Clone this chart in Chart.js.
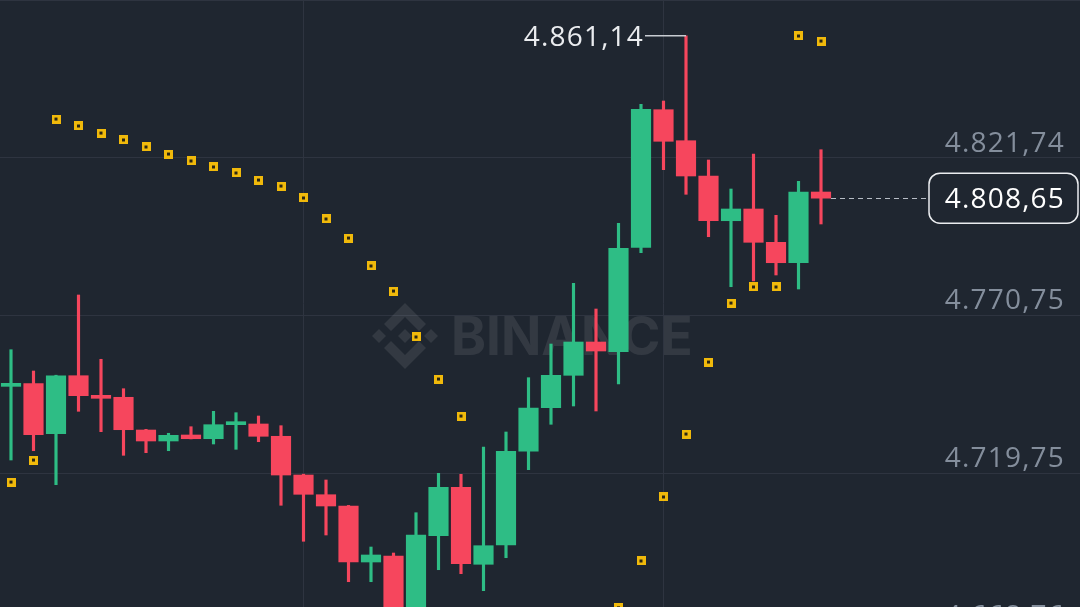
<!DOCTYPE html>
<html>
<head>
<meta charset="utf-8">
<script src="https://cdn.jsdelivr.net/npm/chart.js@4.4.0/dist/chart.umd.min.js"></script>
<style>
  html, body { margin: 0; padding: 0; background: #1f2630; }
  #wrap { width: 1080px; height: 607px; position: relative; }
</style>
</head>
<body>
<div id="wrap"><canvas id="grafico"></canvas></div>
<script>
// candles (open / high / low / close)
const opens  = [4747.8, 4748.66, 4732.49, 4751.24, 4744.9, 4744.26, 4733.68, 4730.13, 4732.07, 4730.87, 4735.4, 4735.63, 4731.65, 4719.13, 4712.76, 4709.11, 4691.0, 4692.94, 4671.0, 4699.51, 4715.16, 4690.26, 4696.5, 4726.8, 4740.9, 4751.37, 4762.14, 4759.0, 4792.76, 4837.26, 4827.23, 4815.82, 4801.36, 4805.15, 4794.38, 4787.78, 4810.64];
const highs  = [4759.65, 4752.76, 4751.4, 4777.34, 4756.55, 4747.04, 4733.9, 4732.62, 4734.75, 4739.73, 4739.28, 4738.21, 4735.08, 4719.4, 4717.52, 4709.3, 4695.85, 4693.91, 4706.94, 4719.68, 4719.36, 4728.19, 4733.04, 4750.6, 4761.49, 4781.12, 4772.81, 4800.52, 4839.0, 4840.07, 4861.14, 4820.99, 4811.61, 4822.93, 4803.11, 4814.1, 4824.32];
const lows   = [4723.98, 4726.99, 4716.0, 4739.73, 4733.14, 4725.5, 4726.35, 4726.99, 4730.8, 4729.16, 4727.44, 4729.9, 4709.34, 4697.7, 4699.73, 4684.63, 4684.63, 4664.0, 4666.5, 4688.51, 4687.22, 4681.72, 4692.39, 4720.85, 4735.53, 4741.45, 4739.83, 4748.56, 4791.02, 4817.86, 4809.9, 4796.19, 4780.02, 4781.87, 4783.81, 4779.28, 4800.3];
const closes = [4748.7, 4732.17, 4751.24, 4744.78, 4743.93, 4733.78, 4730.13, 4731.97, 4730.87, 4735.4, 4736.27, 4731.65, 4719.13, 4712.89, 4709.11, 4691.0, 4693.27, 4670.0, 4699.73, 4715.16, 4690.45, 4696.27, 4726.8, 4740.8, 4751.37, 4762.14, 4759.23, 4792.44, 4837.39, 4827.04, 4815.82, 4801.36, 4805.15, 4794.38, 4787.78, 4810.64, 4808.65];

// parabolic SAR dots (null = below the visible area)
const sar = [4716.87, 4723.98, 4834.25, 4831.99, 4829.72, 4827.46, 4825.2, 4822.93, 4820.67, 4818.73, 4816.79, 4814.52, 4812.58, 4808.71, 4801.92, 4795.77, 4786.72, 4778.63, 4763.76, 4750.17, 4738.21, null, null, null, null, null, null, 4676.2, 4691.33, 4712.02, 4732.39, 4755.67, 4774.75, 4779.93, 4779.93, 4861.09, 4859.47];

const priceTicks = [4668.76, 4719.75, 4770.75, 4821.74, 4872.73];
const timeGrid = [13, 29];
const maxHigh = 4861.14;
const maxHighIdx = 30;
const lastPrice = 4808.65;

const VERDE = '#2ebd85';
const VERMELHO = '#f6465d';
const FUNDO = '#1f2630';

// 4.821,74 style
function fmt(v) {
  const p = v.toFixed(2).split('.');
  return p[0].replace(/\B(?=(\d{3})+(?!\d))/g, '.') + ',' + p[1];
}

const cores = opens.map((o, i) => closes[i] >= o ? VERDE : VERMELHO);

// SAR marker: yellow square with a dark centre
const marca = document.createElement('canvas');
marca.width = 9; marca.height = 9;
const mc = marca.getContext('2d');
mc.fillStyle = '#f0b90b'; mc.fillRect(0, 0, 9, 9);
mc.fillStyle = '#2b2512'; mc.fillRect(3, 3, 3, 3);

const fundo = {
  id: 'fundo',
  beforeDraw(chart) {
    const c = chart.ctx;
    c.save();
    c.fillStyle = FUNDO;
    c.fillRect(0, 0, chart.width, chart.height);
    c.restore();
  }
};

const marcaDagua = {
  id: 'marcaDagua',
  beforeDatasetsDraw(chart) {
    const c = chart.ctx;
    c.save();
    c.fillStyle = 'rgba(255,255,255,0.09)';
    const cx = 405, cy = 336;
    const losango = (x, y, r) => {
      c.beginPath();
      c.moveTo(x, y - r); c.lineTo(x + r, y); c.lineTo(x, y + r); c.lineTo(x - r, y);
      c.closePath(); c.fill();
    };
    losango(cx, cy, 7);
    losango(cx - 26, cy, 7);
    losango(cx + 26, cy, 7);
    [-1, 1].forEach(s => {
      c.beginPath();
      c.moveTo(cx, cy + s * -33);
      c.lineTo(cx + 21, cy + s * -12);
      c.lineTo(cx + 14, cy + s * -5);
      c.lineTo(cx, cy + s * -19);
      c.lineTo(cx - 14, cy + s * -5);
      c.lineTo(cx - 21, cy + s * -12);
      c.closePath(); c.fill();
    });
    c.font = 'bold 53px Inter';
    c.textBaseline = 'alphabetic';
    c.textAlign = 'left';
    c.fillText('BINANCE', 451, 355);
    c.restore();
  }
};

const rotulos = {
  id: 'rotulos',
  afterDatasetsDraw(chart) {
    const c = chart.ctx;
    const y = chart.scales.y, x = chart.scales.x;
    const dir = chart.chartArea.right - 15;
    c.save();
    c.font = '28px "Open Sans"';
    c.letterSpacing = '1.2px';
    c.textAlign = 'right';
    c.textBaseline = 'alphabetic';
    c.fillStyle = '#848e9c';
    priceTicks.forEach(t => {
      c.fillText(fmt(t), dir, y.getPixelForValue(t) - 6);
    });

    // highest price marker
    const hx = x.getPixelForValue(maxHighIdx);
    const hy = y.getPixelForValue(maxHigh);
    c.strokeStyle = '#c8ccd2';
    c.lineWidth = 1.5;
    c.beginPath();
    c.moveTo(hx - 41, hy); c.lineTo(hx, hy);
    c.stroke();
    c.fillStyle = '#eaecef';
    c.fillText(fmt(maxHigh), hx - 42, hy + 10);

    // last price line and box
    const lx = x.getPixelForValue(opens.length - 1) + 10;
    const ly = y.getPixelForValue(lastPrice);
    const bx = 929, bw = chart.chartArea.right - 2 - bx, bh = 50;
    c.strokeStyle = '#b7bdc6';
    c.lineWidth = 1;
    c.setLineDash([5, 4]);
    c.beginPath();
    c.moveTo(lx, Math.round(ly) + 0.5); c.lineTo(bx, Math.round(ly) + 0.5);
    c.stroke();
    c.setLineDash([]);
    c.fillStyle = FUNDO;
    c.strokeStyle = '#eaecef';
    c.lineWidth = 1.5;
    c.beginPath();
    c.roundRect(bx, ly - bh / 2, bw, bh, 11);
    c.fill(); c.stroke();
    c.fillStyle = '#ffffff';
    c.fillText(fmt(lastPrice), dir, ly + 10);
    c.restore();
  }
};

const ctx = document.getElementById('grafico').getContext('2d');
const grafico = new Chart(ctx, {
  type: 'bar',
  data: {
    datasets: [
      {
        type: 'line',
        label: 'SAR',
        data: sar.map((v, i) => ({ x: i, y: v })),
        showLine: false,
        pointStyle: marca,
        pointRadius: 5,
        order: 0
      },
      {
        label: 'corpo',
        data: opens.map((o, i) => ({ x: i, y: [o, closes[i]] })),
        backgroundColor: cores,
        borderWidth: 0,
        barThickness: 19.5,
        minBarLength: 3,
        grouped: false,
        order: 1
      },
      {
        label: 'pavio',
        data: lows.map((l, i) => ({ x: i, y: [l, highs[i]] })),
        backgroundColor: cores,
        borderWidth: 0,
        barThickness: 2.5,
        grouped: false,
        order: 2
      }
    ]
  },
  options: {
    responsive: true,
    maintainAspectRatio: false,
    animation: false,
    events: [],
    layout: { padding: 0, autoPadding: false },
    plugins: { legend: { display: false }, tooltip: { enabled: false } },
    scales: {
      x: {
        type: 'linear',
        offset: false,
        min: -11 / 22.5,
        max: (1080 - 11) / 22.5,
        afterBuildTicks: s => { s.ticks = timeGrid.map(v => ({ value: v })); },
        ticks: { display: false },
        grid: { color: '#2e3440', lineWidth: 1, drawTicks: false, offset: false },
        border: { display: false }
      },
      y: {
        type: 'linear',
        position: 'right',
        min: 4676.45,
        max: 4872.73,
        afterBuildTicks: s => { s.ticks = priceTicks.map(v => ({ value: v })); },
        ticks: { display: false },
        grid: { color: '#2e3440', lineWidth: 1, drawTicks: false },
        border: { display: false }
      }
    }
  },
  plugins: [fundo, marcaDagua, rotulos]
});
</script>
</body>
</html>
